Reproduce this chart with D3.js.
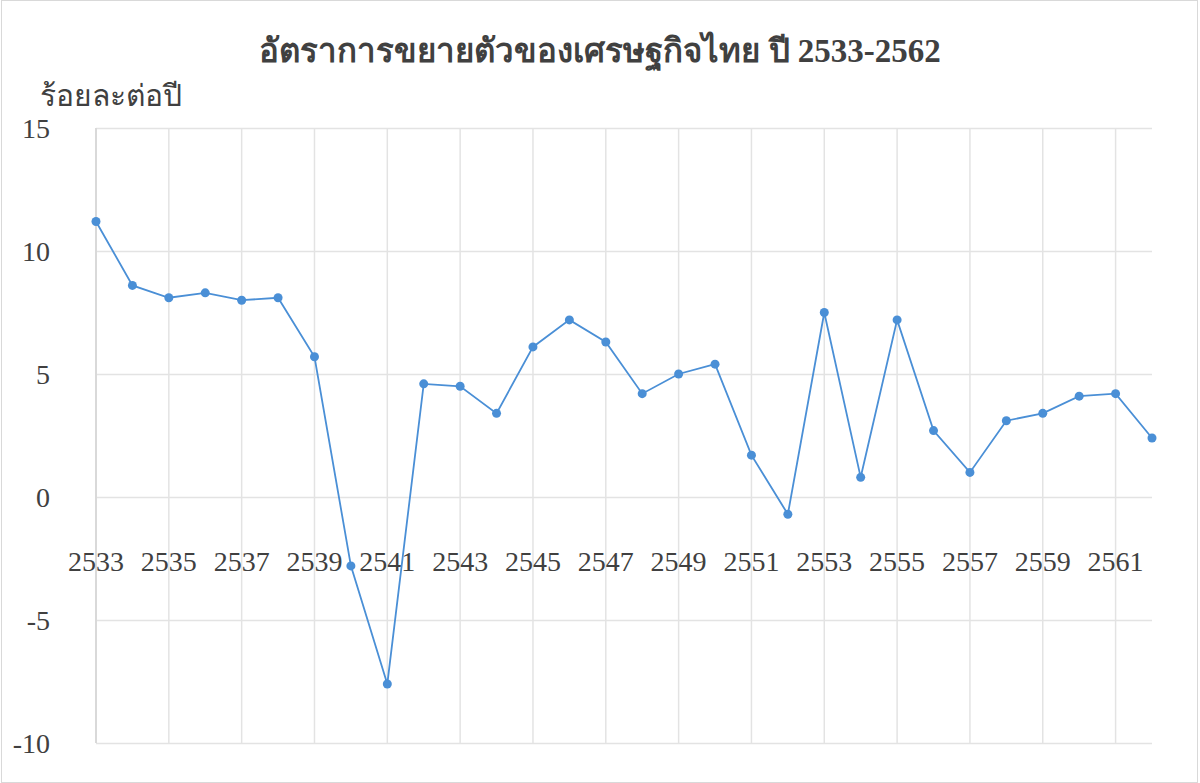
<!DOCTYPE html>
<html>
<head>
<meta charset="utf-8">
<script src="https://cdn.jsdelivr.net/npm/d3@7"></script>
<style>
  body { margin: 0; background: #fff; }
  svg text { font-family: "Liberation Serif", "Times New Roman", serif; fill: #404040; }
</style>
</head>
<body>
<div id="chart"></div>
<script>
// years (Buddhist era) and GDP growth, percent per year
const years = [2533, 2534, 2535, 2536, 2537, 2538, 2539, 2540, 2541, 2542,
  2543, 2544, 2545, 2546, 2547, 2548, 2549, 2550, 2551, 2552,
  2553, 2554, 2555, 2556, 2557, 2558, 2559, 2560, 2561, 2562];
const growth = [11.2, 8.6, 8.1, 8.3, 8.0, 8.1, 5.7, -2.8, -7.6, 4.6,
  4.5, 3.4, 6.1, 7.2, 6.3, 4.2, 5.0, 5.4, 1.7, -0.7,
  7.5, 0.8, 7.2, 2.7, 1.0, 3.1, 3.4, 4.1, 4.2, 2.4];
const yTicks = [-10, -5, 0, 5, 10, 15];
const xTickYears = years.filter(y => (y - 2533) % 2 === 0);

const titleText = "อัตราการขยายตัวของเศรษฐกิจไทย ปี 2533-2562";
const yTitle = "ร้อยละต่อปี";

const width = 1200;
const height = 783;
const margin = { top: 128, right: 48, bottom: 40, left: 96 };

const svg = d3.select("#chart")
  .append("svg")
  .attr("width", width)
  .attr("height", height);

// outer frame
svg.append("rect")
  .attr("x", 1.5).attr("y", 0.5)
  .attr("width", width - 4).attr("height", height - 1)
  .attr("fill", "none")
  .attr("stroke", "#d9d9d9");

const x = d3.scalePoint()
  .domain(years)
  .range([margin.left, width - margin.right]);

const y = d3.scaleLinear()
  .domain([-10, 15])
  .range([height - margin.bottom, margin.top]);

// horizontal grid
svg.append("g")
  .attr("transform", `translate(${margin.left},0)`)
  .call(d3.axisLeft(y).tickValues(yTicks).tickSize(-(width - margin.right - margin.left)).tickFormat(""))
  .call(g => g.select(".domain").remove())
  .call(g => g.selectAll("line").attr("stroke", "#e3e3e3").attr("stroke-width", 1.5));

// vertical grid, every second year
svg.append("g")
  .selectAll("line")
  .data(xTickYears)
  .join("line")
  .attr("x1", d => x(d)).attr("x2", d => x(d))
  .attr("y1", margin.top).attr("y2", height - margin.bottom)
  .attr("stroke", "#e3e3e3")
  .attr("stroke-width", 1.5);

// left axis line
svg.append("line")
  .attr("x1", margin.left).attr("x2", margin.left)
  .attr("y1", margin.top).attr("y2", height - margin.bottom)
  .attr("stroke", "#d9d9d9")
  .attr("stroke-width", 2);

// y tick labels
svg.append("g")
  .selectAll("text")
  .data(yTicks)
  .join("text")
  .attr("x", 50)
  .attr("y", d => y(d))
  .attr("dy", "0.35em")
  .attr("text-anchor", "end")
  .attr("font-size", 28)
  .text(d => d);

// x tick labels, placed just under the zero line
svg.append("g")
  .selectAll("text")
  .data(xTickYears)
  .join("text")
  .attr("x", d => x(d))
  .attr("y", y(0) + 64)
  .attr("dy", "0.35em")
  .attr("text-anchor", "middle")
  .attr("font-size", 28)
  .text(d => d);

// line + markers
const line = d3.line()
  .x((d, i) => x(years[i]))
  .y(d => y(d));

svg.append("path")
  .datum(growth)
  .attr("fill", "none")
  .attr("stroke", "#4a8fd6")
  .attr("stroke-width", 1.8)
  .attr("d", line);

svg.append("g")
  .attr("fill", "#4a8fd6")
  .selectAll("circle")
  .data(growth)
  .join("circle")
  .attr("cx", (d, i) => x(years[i]))
  .attr("cy", d => y(d))
  .attr("r", 4.5);

// titles
svg.append("text")
  .attr("x", 600)
  .attr("y", 50)
  .attr("dy", "0.35em")
  .attr("text-anchor", "middle")
  .attr("font-size", 33)
  .attr("font-weight", "bold")
  .text(titleText);

svg.append("text")
  .attr("x", 40)
  .attr("y", 95)
  .attr("dy", "0.35em")
  .attr("font-size", 30)
  .text(yTitle);
</script>
</body>
</html>
